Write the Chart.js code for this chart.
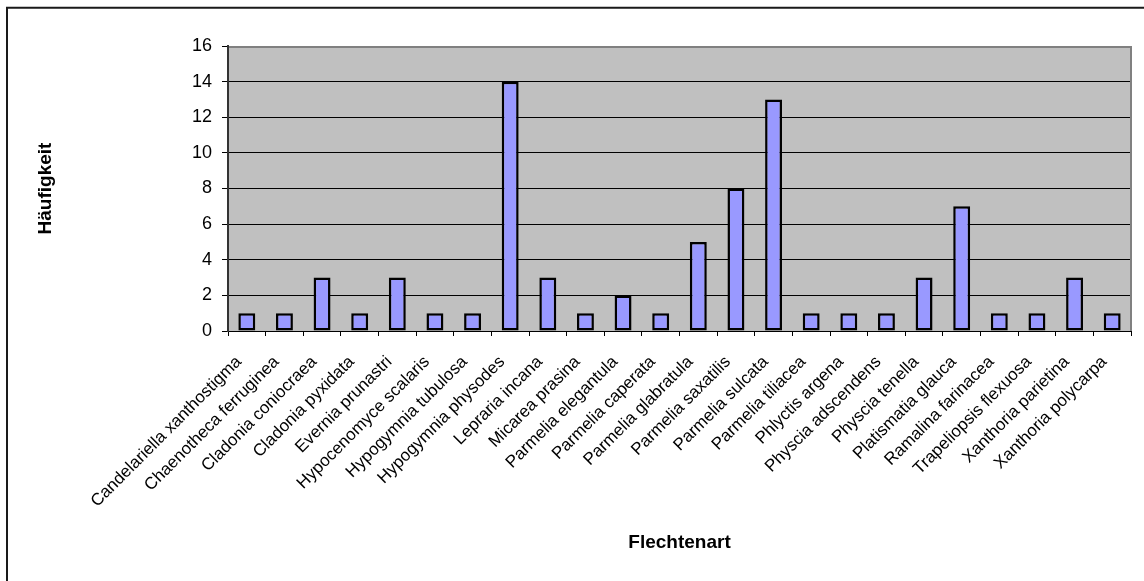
<!DOCTYPE html>
<html>
<head>
<meta charset="utf-8">
<script src="https://cdn.jsdelivr.net/npm/chart.js@4.4.1/dist/chart.umd.min.js"></script>
<style>
html,body{margin:0;padding:0;background:#fff;}
#wrap{position:relative;width:1144px;height:581px;}
canvas{display:block;}
</style>
</head>
<body>
<div id="wrap"><canvas id="c" width="1144" height="581"></canvas></div>
<script>
const categories = [
  "Candelariella xanthostigma","Chaenotheca ferruginea","Cladonia coniocraea","Cladonia pyxidata",
  "Evernia prunastri","Hypocenomyce scalaris","Hypogymnia tubulosa","Hypogymnia physodes",
  "Lepraria incana","Micarea prasina","Parmelia elegantula","Parmelia caperata",
  "Parmelia glabratula","Parmelia saxatilis","Parmelia sulcata","Parmelia tiliacea",
  "Phlyctis argena","Physcia adscendens","Physcia tenella","Platismatia glauca",
  "Ramalina farinacea","Trapeliopsis flexuosa","Xanthoria parietina","Xanthoria polycarpa"
];
const haeufigkeit = [1,1,3,1,3,1,1,14,3,1,2,1,5,8,13,1,1,1,3,7,1,1,3,1];
const yTicks = [0,2,4,6,8,10,12,14,16];
const xTitle = "Flechtenart";
const yTitle = "Häufigkeit";

const FONT = "'Liberation Sans', Arial, Helvetica, sans-serif";

const framePlugin = {
  id: 'frame',
  beforeDraw(chart) {
    const {ctx, chartArea: a} = chart;
    ctx.save();
    ctx.fillStyle = '#C0C0C0';
    ctx.fillRect(a.left, a.top, a.right - a.left, a.bottom - a.top);
    ctx.restore();
  },
  afterDatasetsDraw(chart) {
    const {ctx, chartArea: a} = chart;
    ctx.save();
    ctx.strokeStyle = '#808080';
    ctx.lineWidth = 2;
    ctx.beginPath();
    ctx.moveTo(a.left, a.top + 1);
    ctx.lineTo(a.right, a.top + 1);
    ctx.moveTo(a.right, a.top);
    ctx.lineTo(a.right, a.bottom);
    ctx.stroke();
    ctx.strokeStyle = '#333333';
    ctx.beginPath();
    ctx.moveTo(a.left, a.top);
    ctx.lineTo(a.left, a.bottom);
    ctx.stroke();
    ctx.restore();
  },
  afterDraw(chart) {
    const ctx = chart.ctx;
    ctx.save();
    ctx.strokeStyle = '#1a1a1a';
    ctx.lineWidth = 2;
    ctx.beginPath();
    ctx.moveTo(7, 581);
    ctx.lineTo(7, 7.7);
    ctx.lineTo(1144, 7.7);
    ctx.stroke();
    ctx.restore();
  }
};

new Chart(document.getElementById('c'), {
  type: 'bar',
  data: {
    labels: categories,
    datasets: [{
      label: yTitle,
      data: haeufigkeit,
      backgroundColor: '#9999FF',
      borderColor: '#000000',
      borderWidth: 2.5,
      borderSkipped: false,
      categoryPercentage: 1,
      barPercentage: 0.45
    }]
  },
  options: {
    responsive: false,
    animation: false,
    devicePixelRatio: 1,
    layout: { padding: { left: 0, top: 46, right: 13, bottom: 0 } },
    plugins: { legend: { display: false }, tooltip: { enabled: false } },
    scales: {
      x: {
        afterFit(s) { s.height = 250; },
        grid: { offset: true, drawOnChartArea: false, color: '#000', tickLength: 5, lineWidth: 1 },
        border: { display: true, color: '#000', width: 1 },
        ticks: {
          autoSkip: false, minRotation: 45, maxRotation: 45, padding: 16, labelOffset: -8,
          color: '#000', font: { family: FONT, size: 17 }
        },
        title: {
          display: true, text: xTitle, color: '#000',
          font: { family: FONT, size: 19, weight: 'bold' },
          padding: { top: 0, bottom: 27 }
        }
      },
      y: {
        min: 0, max: 16,
        afterFit(s) { s.width = 228; },
        afterBuildTicks(s) { s.ticks = yTicks.map(v => ({ value: v })); },
        grid: { color: '#000', lineWidth: 1, tickLength: 6 },
        border: { display: true, color: '#333', width: 2 },
        ticks: { padding: 10, color: '#000', font: { family: FONT, size: 18 } },
        title: {
          display: true, text: yTitle, color: '#000',
          font: { family: FONT, size: 19, weight: 'bold' },
          padding: { top: 34, bottom: 0 }
        }
      }
    }
  },
  plugins: [framePlugin]
});
</script>
</body>
</html>
